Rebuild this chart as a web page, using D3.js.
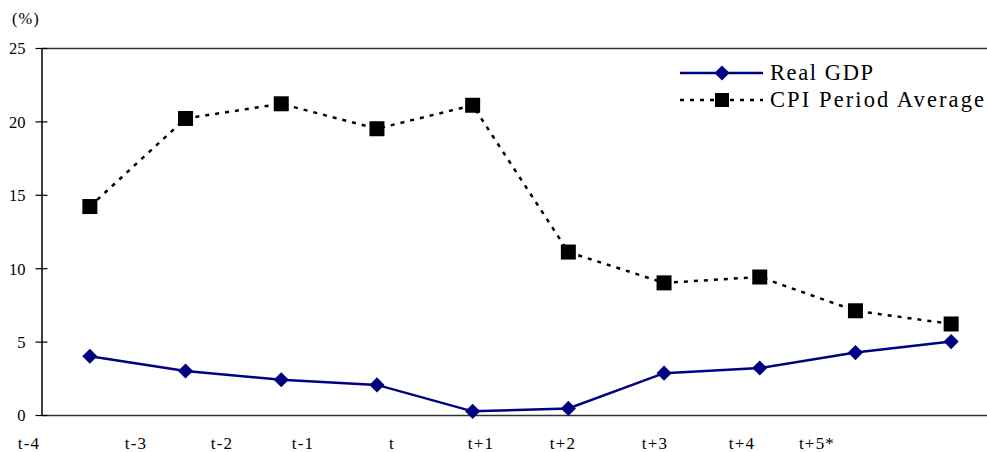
<!DOCTYPE html>
<html>
<head>
<meta charset="utf-8">
<script src="https://cdn.jsdelivr.net/npm/d3@7"></script>
<style>
  html, body { margin: 0; padding: 0; background: #fff; }
  svg { display: block; }
  text { font-family: "Liberation Serif", "Times New Roman", serif; fill: #000; }
</style>
</head>
<body>
<svg id="chart" width="987" height="452"></svg>
<script>
// Periods around the event year and the two annual series (%)
const periods = ["t-4", "t-3", "t-2", "t-1", "t", "t+1", "t+2", "t+3", "t+4", "t+5*"];
const realGDP = [4.0, 3.0, 2.4, 2.05, 0.25, 0.45, 2.85, 3.2, 4.25, 5.0];
const cpiAvg  = [14.2, 20.2, 21.2, 19.5, 21.1, 11.1, 9.0, 9.4, 7.1, 6.2];
const yTicks  = [0, 5, 10, 15, 20, 25];

// Horizontal anchors of the category labels along the bottom
const labelX = [29, 136, 222, 303, 392, 481, 563, 655, 742, 817];

(function () {
  const svg = d3.select("#chart");
  const W = 987;
  const mLeft = 42, mRight = 999, mTop = 48, mBottom = 415;

  const x = d3.scaleBand().domain(d3.range(periods.length)).range([mLeft, mRight]).padding(0);
  const cx = i => x(i) + x.bandwidth() / 2;
  const y = d3.scaleLinear().domain([0, 25]).range([mBottom, mTop]);

  // Frame: top border and x axis
  svg.append("line").attr("x1", mLeft).attr("x2", W).attr("y1", mTop + 0.5).attr("y2", mTop + 0.5)
    .attr("stroke", "#333").attr("stroke-width", 1.5);
  svg.append("line").attr("x1", mLeft).attr("x2", W).attr("y1", mBottom + 0.5).attr("y2", mBottom + 0.5)
    .attr("stroke", "#333").attr("stroke-width", 1.5);

  // Value axis
  const yAxis = d3.axisLeft(y).tickValues(yTicks).tickSize(0).tickPadding(16);
  const gy = svg.append("g").attr("transform", `translate(${mLeft - 0.5},0)`).call(yAxis);
  gy.select(".domain").attr("stroke", "#000").attr("stroke-width", 1.5);
  gy.selectAll(".tick text").attr("font-size", 16.5).attr("font-family", "Liberation Serif").attr("fill", "#000")
    .attr("dy", "0.36em");
  gy.selectAll(".tick").append("line").attr("x1", -6).attr("x2", 6).attr("stroke", "#000").attr("stroke-width", 1.2);

  // Unit label
  svg.append("text").attr("x", 12).attr("y", 24).attr("font-size", 16.5).attr("letter-spacing", 1).text("(%)");

  // Category labels
  svg.append("g").selectAll("text").data(periods).join("text")
    .attr("x", (d, i) => labelX[i]).attr("y", 449)
    .attr("text-anchor", "middle").attr("font-size", 17).attr("letter-spacing", 1.2)
    .text(d => d);

  // CPI series: dashed black line with square markers
  const line = vals => d3.line().x((d, i) => cx(i)).y(d => y(d))(vals);
  svg.append("path").attr("d", line(cpiAvg)).attr("fill", "none")
    .attr("stroke", "#000").attr("stroke-width", 2.5).attr("stroke-dasharray", "4,6");
  const sq = 15;
  svg.append("g").selectAll("rect").data(cpiAvg).join("rect")
    .attr("x", (d, i) => cx(i) - sq / 2).attr("y", d => y(d) - sq / 2)
    .attr("width", sq).attr("height", sq).attr("fill", "#000");

  // Real GDP series: navy line with diamond markers
  const navy = "#000080";
  svg.append("path").attr("d", line(realGDP)).attr("fill", "none")
    .attr("stroke", navy).attr("stroke-width", 2.5);
  const diamond = d3.symbol().type(d3.symbolSquare).size(115);
  svg.append("g").selectAll("path").data(realGDP).join("path")
    .attr("d", diamond)
    .attr("transform", (d, i) => `translate(${cx(i)},${y(d)}) rotate(45)`)
    .attr("fill", navy);

  // Legend
  const lg = svg.append("g");
  lg.append("line").attr("x1", 680).attr("x2", 763).attr("y1", 73).attr("y2", 73)
    .attr("stroke", navy).attr("stroke-width", 2.5);
  lg.append("path").attr("d", diamond).attr("transform", "translate(722,73) rotate(45)").attr("fill", navy);
  lg.append("text").attr("x", 770).attr("y", 80).attr("font-size", 22.5).attr("letter-spacing", 1.6).text("Real GDP");

  lg.append("line").attr("x1", 680).attr("x2", 763).attr("y1", 100).attr("y2", 100)
    .attr("stroke", "#000").attr("stroke-width", 2.5).attr("stroke-dasharray", "4,6");
  lg.append("rect").attr("x", 722 - 7).attr("y", 100 - 7).attr("width", 14).attr("height", 14).attr("fill", "#000");
  lg.append("text").attr("x", 770).attr("y", 107).attr("font-size", 22.5).attr("letter-spacing", 2.1).text("CPI Period Average");
})();
</script>
</body>
</html>
